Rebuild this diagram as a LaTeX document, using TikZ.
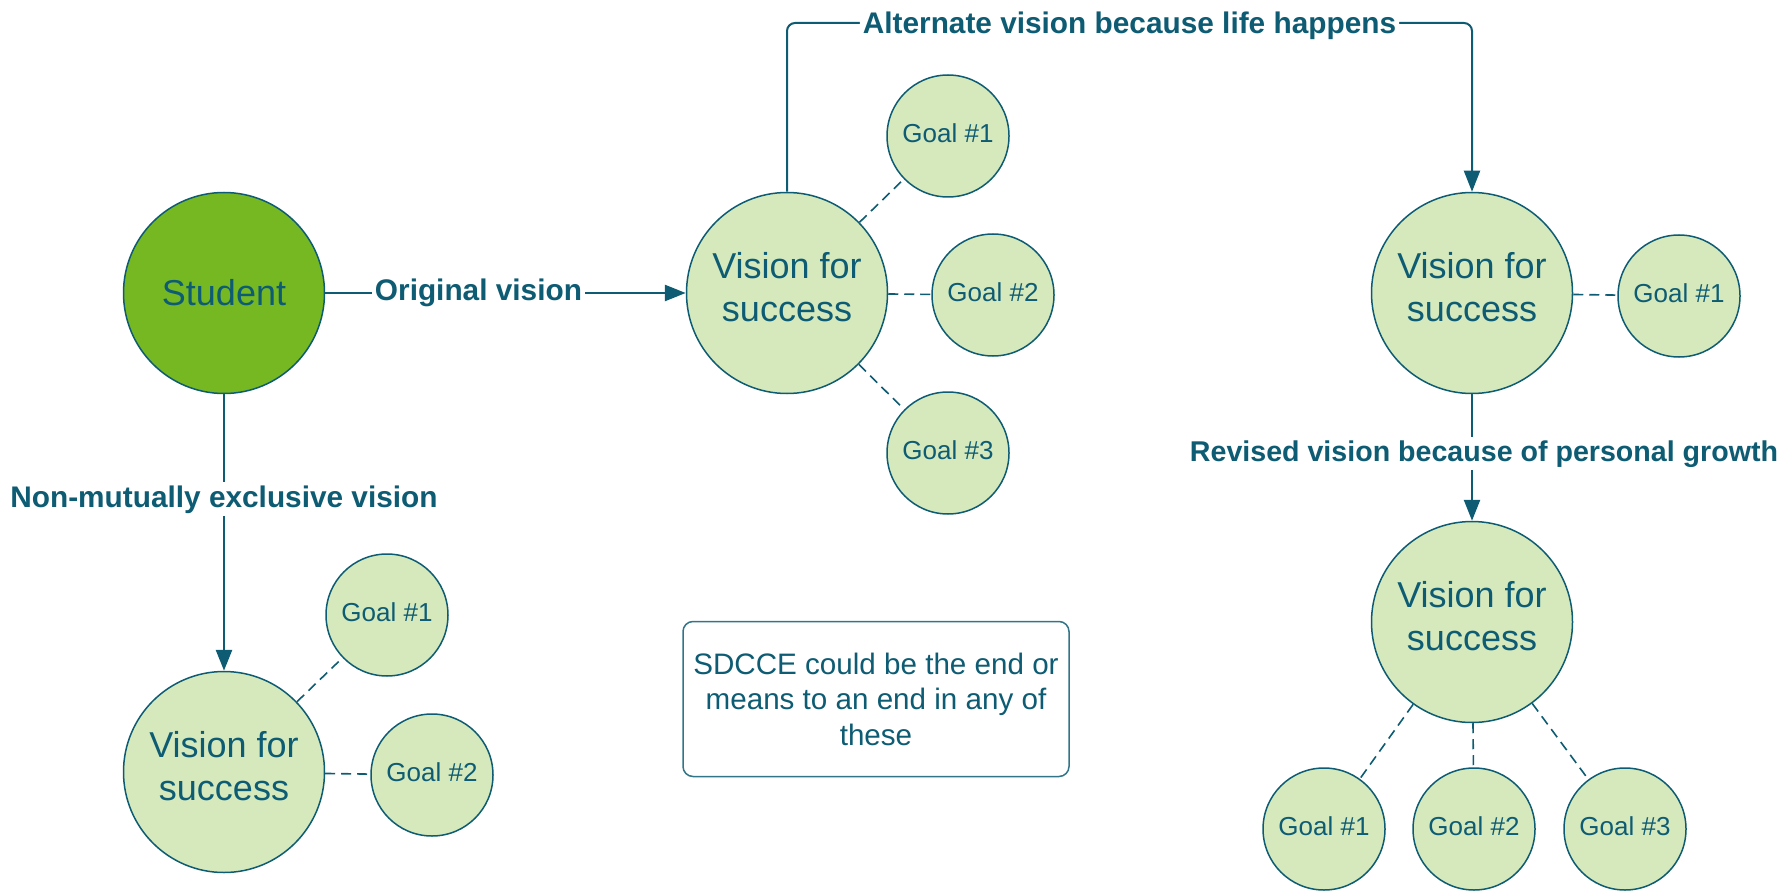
\documentclass[tikz,border=0pt]{standalone}
\usepackage{fontspec}
\setmainfont{Liberation Sans}
\usetikzlibrary{arrows.meta}

\definecolor{ink}{RGB}{14,92,115}
\definecolor{studentgreen}{RGB}{118,184,34}
\definecolor{palegreen}{RGB}{213,233,189}

\tikzset{
  bubble/.style={circle, draw=ink, line width=1.5pt, fill=palegreen, inner sep=0pt},
  vision/.style={bubble, minimum size=201pt},
  goal/.style={bubble, minimum size=122pt},
  visiontext/.style={text=ink, align=center, font=\fontsize{36}{43}\selectfont},
  goaltext/.style={text=ink, font=\fontsize{26}{30}\selectfont},
  conn/.style={draw=ink, line width=2.6pt, -{Triangle[length=21pt,width=16pt]}},
  link/.style={draw=ink, line width=1.6pt, dash pattern=on 10pt off 6pt},
  lbl/.style={fill=white, text=ink, inner sep=3pt, font=\bfseries\fontsize{29.8}{34}\selectfont},
  notebox/.style={draw=ink!85, line width=1.5pt, rounded corners=10pt, fill=white,
    minimum width=386pt, minimum height=155pt, align=center, text=ink,
    font=\fontsize{29.6}{35.5}\selectfont}
}

\begin{document}
\begin{tikzpicture}[x=1pt,y=-1pt]
  \useasboundingbox (0,0) rectangle (1785,893);

  % the student
  \node[circle, draw=ink, line width=1.5pt, fill=studentgreen, minimum size=201pt,
        text=ink, font=\fontsize{36}{43}\selectfont] (st) at (224,293) {Student};

  % original vision with its three goals
  \node[vision] (v1) at (787,293) {};
  \node[visiontext] (v1t) at (787,287) {Vision for\\success};
  \node[goal] (g1a) at (948,136) {};
  \node[goal] (g1b) at (993,295) {};
  \node[goal] (g1c) at (948,453) {};
  \node[goaltext] (g1at) at (948,133) {Goal \#1};
  \node[goaltext] (g1bt) at (993,292) {Goal \#2};
  \node[goaltext] (g1ct) at (948,450) {Goal \#3};

  % alternate vision with one goal
  \node[vision] (v2) at (1472,293) {};
  \node[visiontext] (v2t) at (1472,287) {Vision for\\success};
  \node[goal] (g2a) at (1679,296) {};
  \node[goaltext] (g2at) at (1679,293) {Goal \#1};

  % revised vision with three goals
  \node[vision] (v3) at (1472,622) {};
  \node[visiontext] (v3t) at (1472,616) {Vision for\\success};
  \node[goal] (g3a) at (1324,829) {};
  \node[goal] (g3b) at (1474,829) {};
  \node[goal] (g3c) at (1625,829) {};
  \node[goaltext] (g3at) at (1324,826) {Goal \#1};
  \node[goaltext] (g3bt) at (1474,826) {Goal \#2};
  \node[goaltext] (g3ct) at (1625,826) {Goal \#3};

  % non-mutually exclusive vision with two goals
  \node[vision] (v4) at (224,772) {};
  \node[visiontext] (v4t) at (224,766) {Vision for\\success};
  \node[goal] (g4a) at (387,615) {};
  \node[goal] (g4b) at (432,775) {};
  \node[goaltext] (g4at) at (387,612) {Goal \#1};
  \node[goaltext] (g4bt) at (432,772) {Goal \#2};

  % note
  \node[notebox] (note) at (876,699) {SDCCE could be the end or\\means to an end in any of\\these};

  % goal links
  \draw[link] (v1) -- (g1a);
  \draw[link] (v1) -- (g1b);
  \draw[link] (v1) -- (g1c);
  \draw[link] (v2) -- (g2a);
  \draw[link] (v3) -- (g3a);
  \draw[link] (v3) -- (g3b);
  \draw[link] (v3) -- (g3c);
  \draw[link] (v4) -- (g4a);
  \draw[link] (v4) -- (g4b);

  % vision paths
  \draw[conn] (st) -- node[lbl, pos=0.425] (lorig) {Original vision} (v1);
  \draw[conn] (st) -- node[lbl, pos=0.38] (lnon) {Non-mutually exclusive vision} (v4);
  \coordinate (topleft) at (787,23);
  \draw[conn, line width=2pt, rounded corners=8pt] (v1.north) -- (topleft)
     -| node[lbl, pos=0.25, yshift=-3pt] (lalt) {Alternate vision because life happens} (v2.north);
  \draw[conn] (v2) -- node[lbl, pos=0.47, xshift=12pt, font=\bfseries\fontsize{28.6}{33}\selectfont] (lrev) {Revised vision because of personal growth} (v3);
\end{tikzpicture}
\end{document}
